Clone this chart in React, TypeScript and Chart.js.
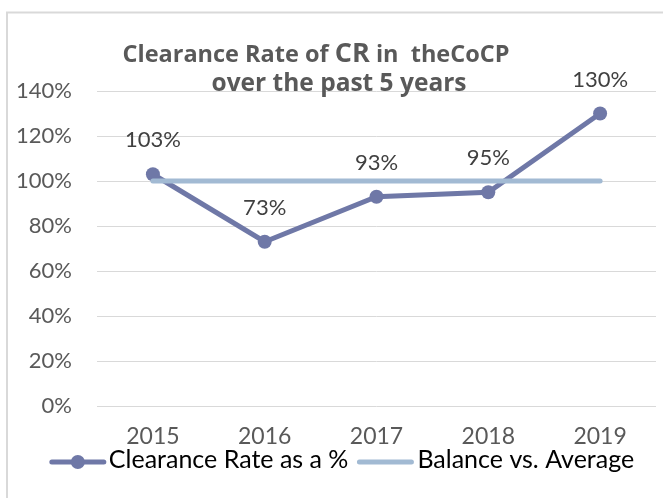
import React, { useEffect, useRef } from "react";
import { Chart, registerables } from "chart.js";

Chart.register(...registerables);

const years = ["2015", "2016", "2017", "2018", "2019"];
const clearanceRate = [103, 73, 93, 95, 130];
const balanceAverage = [100, 100, 100, 100, 100];
const seriesNames = ["Clearance Rate as a %", "Balance vs. Average"];
const titleLine1 = [
  { text: "Clearance Rate of ", big: false },
  { text: "CR", big: true },
  { text: " in  theCoCP", big: false },
];
const titleLine2 = "over the past 5 years";

const FONT = "Lato, 'Noto Sans', sans-serif";
const TITLE_FONT = "'Open Sans', Lato, sans-serif";
const C1 = "#6f78a7";
const C2 = "#a2bad3";

const framePlugin = {
  id: "frame",
  beforeDraw(chart: any) {
    const ctx = chart.ctx;
    ctx.save();
    ctx.fillStyle = "#ffffff";
    ctx.fillRect(0, 0, chart.width, chart.height);
    ctx.strokeStyle = "#d9d9d9";
    ctx.lineWidth = 2;
    ctx.beginPath();
    ctx.moveTo(7, chart.height + 5);
    ctx.lineTo(7, 12.5);
    ctx.lineTo(chart.width + 5, 12.5);
    ctx.stroke();
    ctx.restore();
  },
};

const overlayPlugin = {
  id: "overlay",
  afterDraw(chart: any) {
    const ctx = chart.ctx;
    ctx.save();
    // data labels
    const meta = chart.getDatasetMeta(0);
    ctx.font = `22px ${FONT}`;
    ctx.fillStyle = "#404040";
    ctx.textAlign = "center";
    ctx.textBaseline = "middle";
    meta.data.forEach((pt: any, i: number) => {
      ctx.fillText(clearanceRate[i] + "%", pt.x, pt.y - 34);
    });

    // title
    ctx.fillStyle = "#595959";
    ctx.textAlign = "left";
    ctx.textBaseline = "alphabetic";
    const small = `bold 23.5px ${TITLE_FONT}`;
    const big = `bold 27px ${TITLE_FONT}`;
    let w1 = 0;
    titleLine1.forEach((p) => {
      ctx.font = p.big ? big : small;
      w1 += ctx.measureText(p.text).width;
    });
    let x = 316 - w1 / 2;
    titleLine1.forEach((p) => {
      ctx.font = p.big ? big : small;
      ctx.fillText(p.text, x, 62);
      x += ctx.measureText(p.text).width;
    });
    ctx.font = `bold 24.5px ${TITLE_FONT}`;
    ctx.textAlign = "center";
    ctx.fillText(titleLine2, 339, 91);

    // legend
    ctx.font = `25px ${FONT}`;
    ctx.textAlign = "left";
    ctx.textBaseline = "middle";
    const lineLen = 56;
    const tw1 = ctx.measureText(seriesNames[0]).width;
    const tw2 = ctx.measureText(seriesNames[1]).width;
    const total = lineLen + 3 + tw1 + 9 + lineLen + 4 + tw2;
    let lx = 342 - total / 2;
    const ly = 462;
    ctx.lineCap = "round";
    ctx.lineWidth = 5;
    ctx.strokeStyle = C1;
    ctx.beginPath();
    ctx.moveTo(lx + 2, ly);
    ctx.lineTo(lx + lineLen - 2, ly);
    ctx.stroke();
    ctx.fillStyle = C1;
    ctx.beginPath();
    ctx.arc(lx + lineLen / 2, ly, 7, 0, Math.PI * 2);
    ctx.fill();
    ctx.fillStyle = "#000000";
    ctx.fillText(seriesNames[0], lx + lineLen + 3, ly - 2);
    lx += lineLen + 3 + tw1 + 9;
    ctx.strokeStyle = C2;
    ctx.beginPath();
    ctx.moveTo(lx + 2, ly);
    ctx.lineTo(lx + lineLen - 2, ly);
    ctx.stroke();
    ctx.fillStyle = "#000000";
    ctx.fillText(seriesNames[1], lx + lineLen + 4, ly - 2);
    ctx.restore();
  },
};

export default function App() {
  const ref = useRef<HTMLCanvasElement | null>(null);
  useEffect(() => {
    if (!ref.current) return;
    const chart = new Chart(ref.current, {
      type: "line",
      data: {
        labels: years,
        datasets: [
          {
            label: seriesNames[0],
            data: clearanceRate,
            borderColor: C1,
            backgroundColor: C1,
            borderWidth: 5,
            pointRadius: 7,
            pointBorderWidth: 0,
            pointBackgroundColor: C1,
            tension: 0,
            order: 1,
          },
          {
            label: seriesNames[1],
            data: balanceAverage,
            borderColor: C2,
            backgroundColor: C2,
            borderWidth: 5,
            pointRadius: 0,
            borderCapStyle: "round",
            tension: 0,
            order: 0,
          },
        ],
      },
      options: {
        animation: false,
        responsive: false,
        maintainAspectRatio: false,
        layout: { padding: { top: 91, right: 1, left: 0, bottom: 0 } },
        plugins: {
          legend: { display: false },
          title: { display: false },
          tooltip: { enabled: false },
        },
        scales: {
          x: {
            offset: true,
            grid: { display: false, drawTicks: false },
            border: { display: false },
            ticks: {
              color: "#595959",
              font: { family: FONT, size: 23 },
              padding: 17,
              maxRotation: 0,
            },
            afterFit(s: any) {
              s.height = 92;
            },
          },
          y: {
            min: 0,
            max: 140,
            grid: { color: "#d9d9d9", lineWidth: 1, drawTicks: false },
            border: { display: false },
            ticks: {
              stepSize: 20,
              color: "#595959",
              font: { family: FONT, size: 22 },
              padding: 25,
              callback: (v: any) => v + "%",
            },
            afterFit(s: any) {
              s.width = 97;
            },
          },
        },
      },
      plugins: [framePlugin, overlayPlugin],
    });
    return () => chart.destroy();
  }, []);
  return (
    <div style={{ position: "fixed", left: 0, top: 0, width: 663, height: 498, background: "#fff" }}>
      <canvas ref={ref} width={663} height={498} style={{ display: "block" }} />
    </div>
  );
}
